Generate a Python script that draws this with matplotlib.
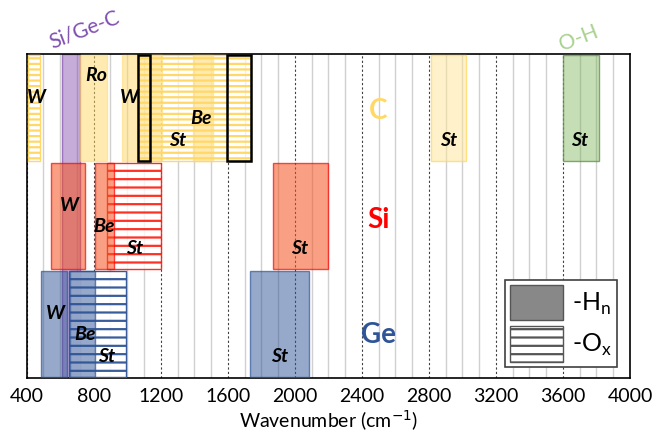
import matplotlib
matplotlib.use("Agg")
import matplotlib.pyplot as plt
from matplotlib.patches import Patch

plt.rcParams['font.family'] = ['Lato', 'DejaVu Sans']
plt.rcParams['hatch.linewidth'] = 1.6

# ---- data (wavenumber ranges, cm-1) ----
# C row
c_fill_start = [970, 720, 1390]
c_fill_end = [1210, 880, 1510]
c_hatch_start = [410, 1065]
c_hatch_end = [480, 1740]
c_st_start = [2810]
c_st_end = [3020]
c_box_start = [1065, 1595]
c_box_end = [1135, 1740]
sigec_start = [610]
sigec_end = [720]
oh_start = [3600]
oh_end = [3815]
# Si row
si_fill_start = [545, 805, 1870]
si_fill_end = [750, 920, 2195]
si_hatch_start = [880]
si_hatch_end = [1200]
# Ge row
ge_fill_start = [485, 660, 1735]
ge_fill_end = [640, 810, 2085]
ge_hatch_start = [655]
ge_hatch_end = [995]

rows = {'Ge': 0, 'Si': 1, 'C': 2}

c_labels = ['W', 'Ro', 'W', 'Be', 'St', 'St', 'St']
c_label_x = [458, 814, 1011, 1443, 1299, 2920, 3700]
c_label_y = [0.6, 0.8, 0.6, 0.4, 0.2, 0.2, 0.2]
si_labels = ['W', 'Be', 'St', 'St']
si_label_x = [652, 864, 1046, 2031]
si_label_y = [0.6, 0.4, 0.2, 0.2]
ge_labels = ['W', 'Be', 'St', 'St']
ge_label_x = [574, 747, 876, 1912]
ge_label_y = [0.6, 0.4, 0.2, 0.2]

xticks = list(range(400, 4001, 400))

fig = plt.figure(figsize=(6.54, 4.33), dpi=100)
ax = fig.add_axes([0.0408, 0.127, 0.9225, 0.748])


def bars(starts, ends, row, **kw):
    w = [e - s for s, e in zip(starts, ends)]
    ax.bar(starts, [0.98] * len(starts), width=w, bottom=row + 0.01, align='edge', **kw)


# Purple Si/Ge-C band spans all rows
w = [e - s for s, e in zip(sigec_start, sigec_end)]
ax.bar(sigec_start, [3.0], width=w, bottom=0, align='edge',
       color=(0.44, 0.19, 0.63, 0.40), edgecolor=(0.44, 0.19, 0.63, 0.6), linewidth=1, zorder=2)

# hatched (-Ox) regions (white partly opaque fill)
bars(c_hatch_start, c_hatch_end, rows['C'], color=(1, 1, 1, 0.7),
     edgecolor=(1.0, 0.84, 0.38, 0.95), hatch='---', linewidth=1, zorder=3)
bars(si_hatch_start, si_hatch_end, rows['Si'], color=(1, 1, 1, 0.8),
     edgecolor=(1.0, 0.1, 0.05, 0.9), hatch='--', linewidth=1, zorder=3)
bars(ge_hatch_start, ge_hatch_end, rows['Ge'], color=(1, 1, 1, 0.9),
     edgecolor=(0.18, 0.33, 0.59, 0.95), hatch='--', linewidth=1, zorder=3)

# solid (-Hn etc.) regions
bars(c_fill_start, c_fill_end, rows['C'], color=(1.0, 0.85, 0.40, 0.5),
     edgecolor=(1.0, 0.85, 0.40, 0.5), linewidth=1, zorder=4)
bars(c_st_start, c_st_end, rows['C'], color=(1.0, 0.90, 0.60, 0.5),
     edgecolor=(1.0, 0.85, 0.40, 0.8), linewidth=1, zorder=4)
bars(oh_start, oh_end, rows['C'], color=(0.44, 0.68, 0.28, 0.40),
     edgecolor=(0.40, 0.58, 0.30, 0.8), linewidth=1, zorder=4)
bars(si_fill_start, si_fill_end, rows['Si'], color=(0.96, 0.32, 0.12, 0.55),
     edgecolor=(1.0, 0.0, 0.0, 0.7), linewidth=1, zorder=4)
bars(ge_fill_start, ge_fill_end, rows['Ge'], color=(0.18, 0.33, 0.59, 0.5),
     edgecolor=(0.18, 0.33, 0.59, 0.7), linewidth=1, zorder=4)

# black outline boxes
bars(c_box_start, c_box_end, rows['C'], color='none', edgecolor='black', linewidth=1.8, zorder=5)

# labels inside regions
for labs, xs, ys, row in [(c_labels, c_label_x, c_label_y, rows['C']),
                          (si_labels, si_label_x, si_label_y, rows['Si']),
                          (ge_labels, ge_label_x, ge_label_y, rows['Ge'])]:
    for t, x, y in zip(labs, xs, ys):
        ax.text(x, row + y, t, fontsize=14, fontweight='bold', fontstyle='italic',
                ha='center', va='center', zorder=6)

# row labels
ax.text(2500, rows['C'] + 0.47, 'C', color='#FFD966', fontsize=20, fontweight='bold',
        ha='center', va='center', zorder=6)
ax.text(2500, rows['Si'] + 0.46, 'Si', color='#FF0000', fontsize=20, fontweight='bold',
        ha='center', va='center', zorder=6)
ax.text(2500, rows['Ge'] + 0.40, 'Ge', color='#2F5597', fontsize=20, fontweight='bold',
        ha='center', va='center', zorder=6)

# rotated top labels
ax.text(0.095, 1.075, 'Si/Ge-C', transform=ax.transAxes, color='#7F4FB0', fontsize=15,
        rotation=21, ha='center', va='center')
ax.text(0.915, 1.05, 'O-H', transform=ax.transAxes, color='#A9D18E', fontsize=15,
        rotation=21, ha='center', va='center')

# axes styling
ax.set_xlim(400, 4000)
ax.set_ylim(0, 3)
ax.set_yticks([])
ax.set_xticks(xticks)
ax.set_xticks(range(400, 4001, 100), minor=True)
ax.tick_params(axis='x', which='both', length=0, labelsize=14, pad=7)
ax.grid(axis='x', which='minor', color='#D0D0D0', linewidth=1.0, zorder=0)
ax.grid(axis='x', which='major', color='#404040', linewidth=0.8, linestyle=(0, (2, 2)), zorder=0)
ax.set_axisbelow(True)
for s in ax.spines.values():
    s.set_linewidth(1.2)
    s.set_color('black')
ax.set_xlabel('Wavenumber (cm$^{-1}$)', fontsize=14, labelpad=3)

handles = [Patch(facecolor='#888888', edgecolor='#555555', linewidth=1),
           Patch(facecolor='white', edgecolor='#555555', hatch='--', linewidth=1)]
leg = ax.legend(handles, ['-H$_\\mathregular{n}$', '-O$_\\mathregular{x}$'],
                loc='lower right', bbox_to_anchor=(0.978, 0.035), borderaxespad=0,
                fontsize=18, handlelength=2.1, handleheight=1.8, handletextpad=0.35,
                labelspacing=0.25, fancybox=False, framealpha=1, edgecolor='#404040',
                borderpad=0.2)
leg.get_frame().set_linewidth(1.2)
leg.set_zorder(10)

fig.savefig('out.png', dpi=100)
